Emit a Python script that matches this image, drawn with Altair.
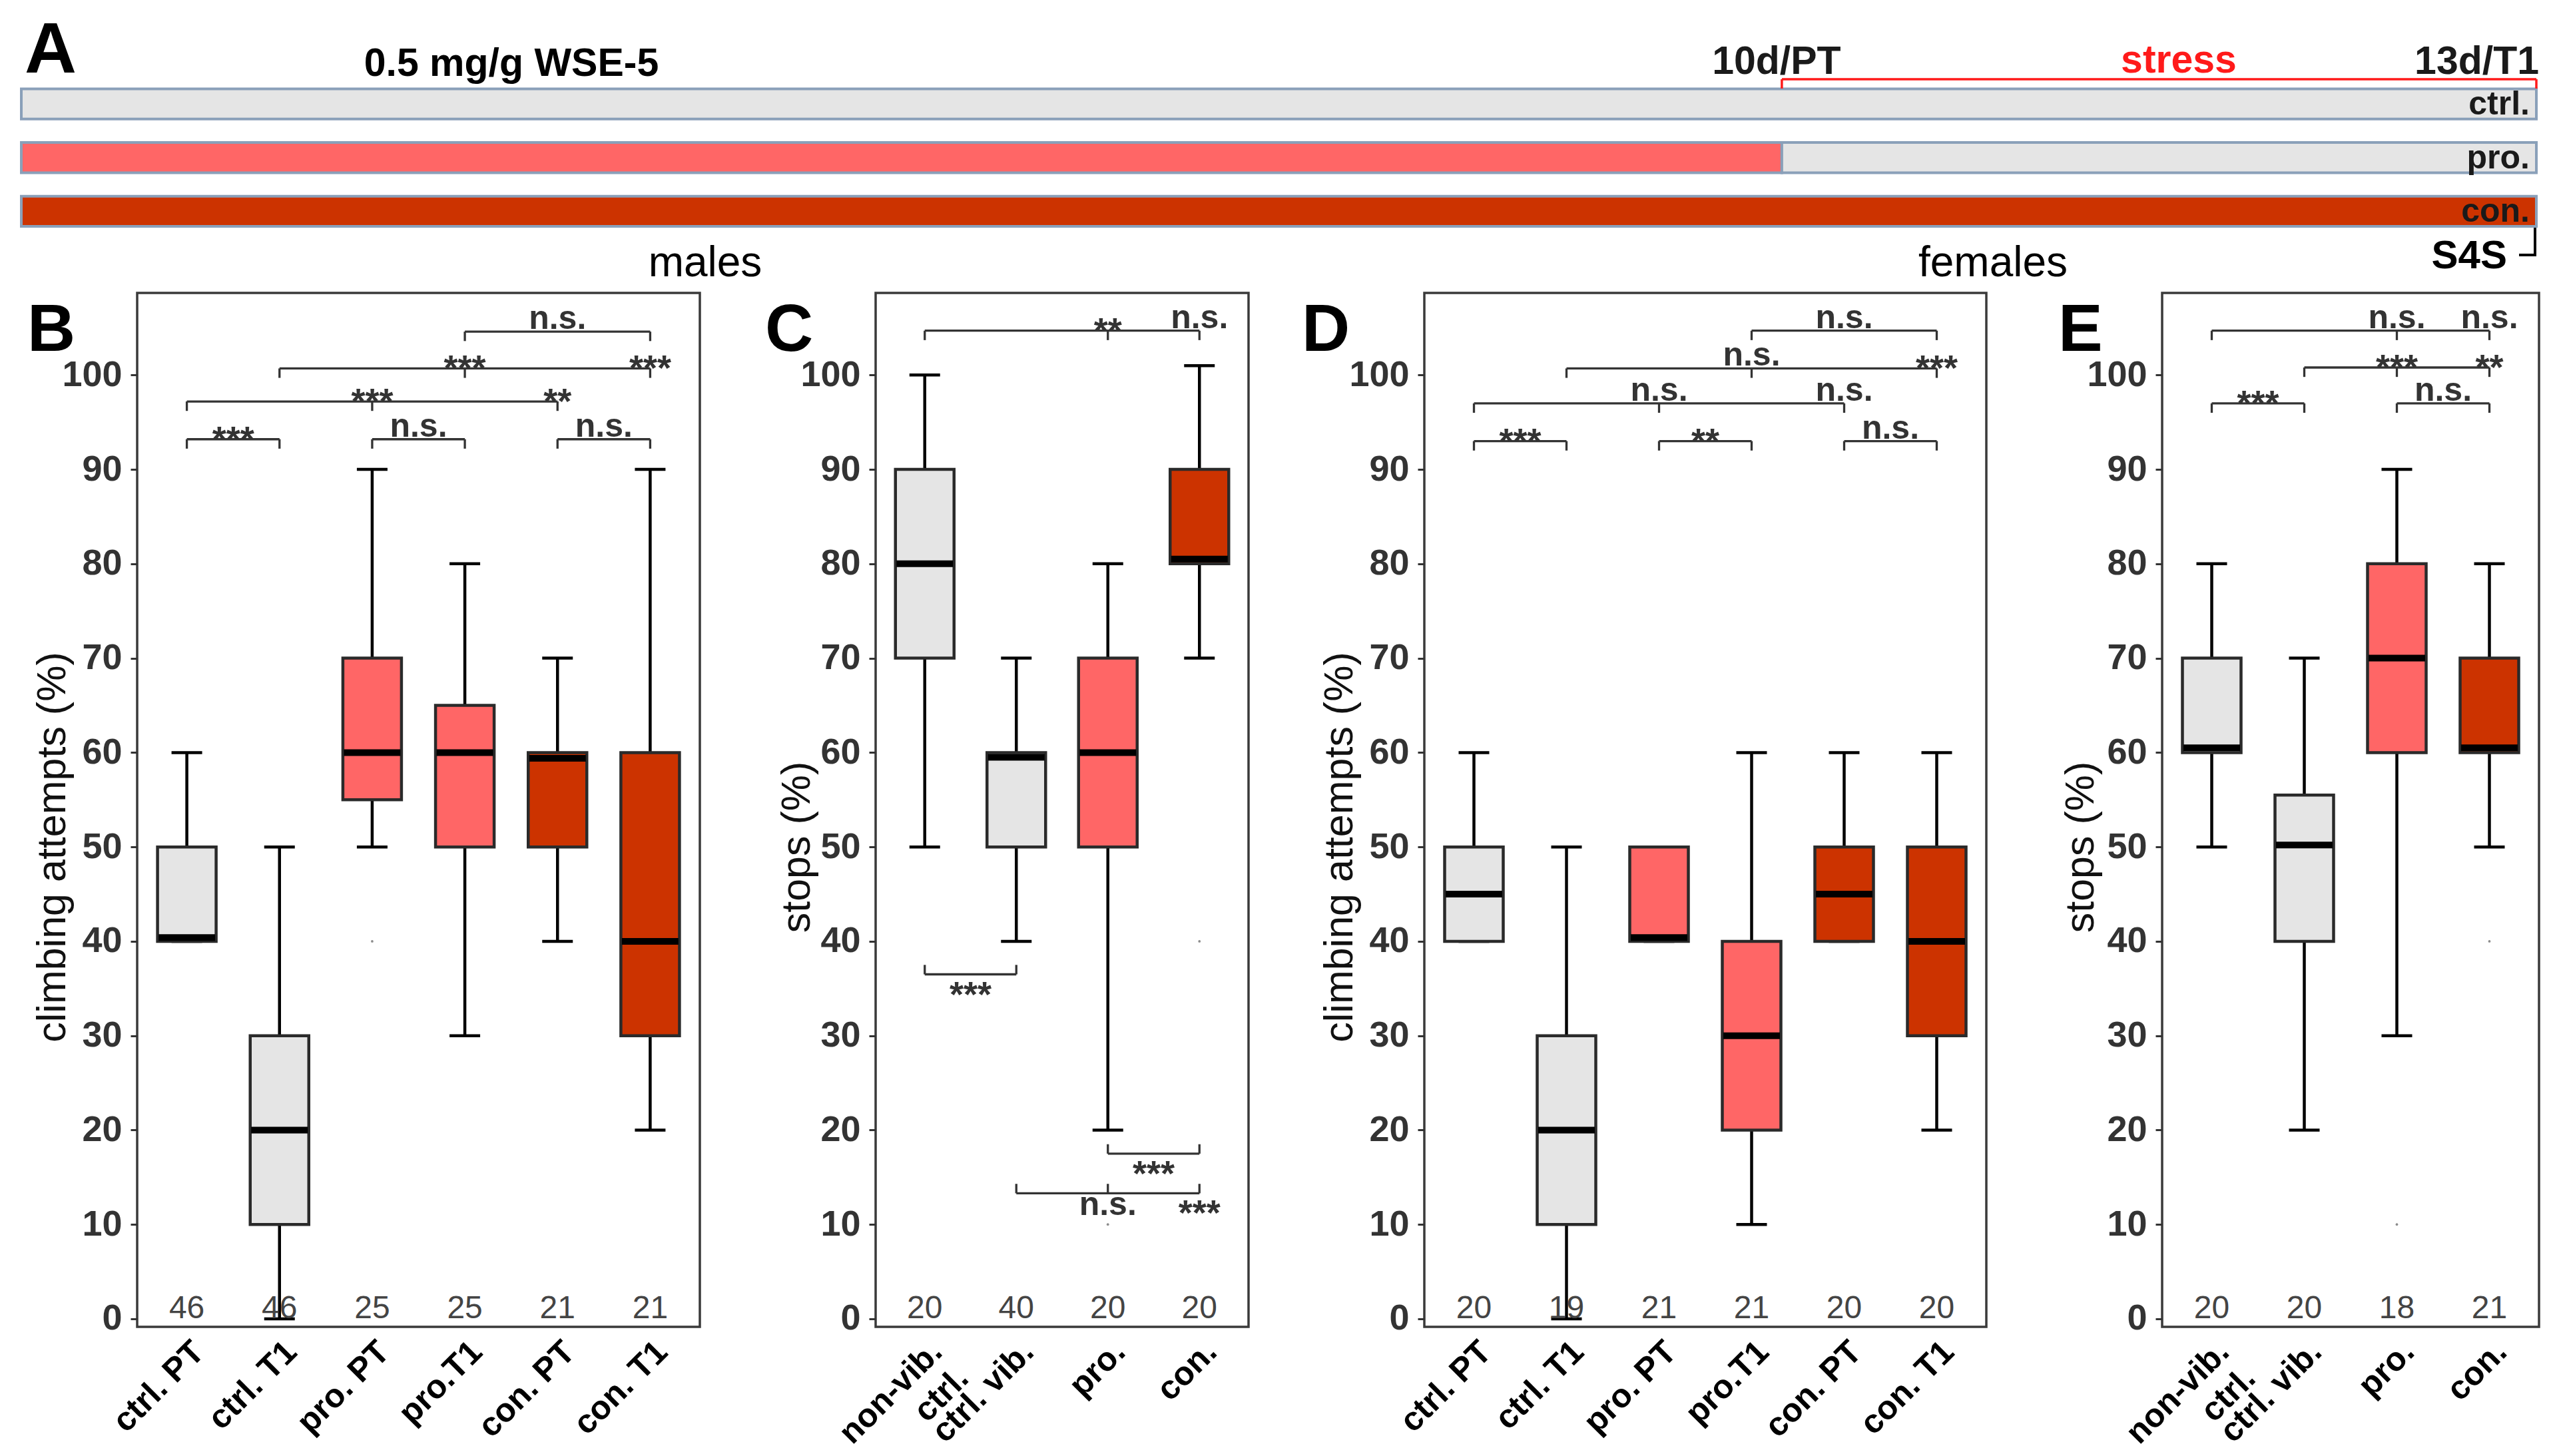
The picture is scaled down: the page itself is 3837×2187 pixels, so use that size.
import json
import altair as alt
import pandas as pd

FONT = "Liberation Sans"
TREATS = ["ctrl", "pro", "con"]
TREAT_COLORS = ["#e5e5e5", "#ff6666", "#cc3300"]
NBSP = "\u00a0"

# ---------------- Panel A: timeline ----------------
a_rows = ["ctrl.", "pro.", "con."]
a_seg_row = ["ctrl.", "pro.", "pro.", "con."]
a_seg_start = [0.0, 0.0, 0.70, 0.0]
a_seg_end = [1.0, 0.70, 1.0, 1.0]
a_seg_treat = ["ctrl", "pro", "ctrl", "con"]
a_time_pos = [0.70, 1.0]
a_time_text = ["10d/PT", "13d/T1"]

# ---------------- Panel B: males, climbing attempts ----------------
b_groups = ["ctrl. PT", "ctrl. T1", "pro. PT", "pro.T1", "con. PT", "con. T1"]
b_treat = ["ctrl", "ctrl", "pro", "pro", "con", "con"]
b_low = [40, 0, 50, 30, 40, 20]
b_q1 = [40, 10, 55, 50, 50, 30]
b_med = [40.4, 20, 60, 60, 59.4, 40]
b_q3 = [50, 30, 70, 65, 60, 60]
b_high = [60, 50, 90, 80, 70, 90]
b_n = [46, 46, 25, 25, 21, 21]
b_out_x = [3]
b_out_y = [40]
# (y, side, from, to, tick positions, [(label position, text)])
b_brackets = [
    (93.2, "top", 1, 2, [1, 2], [(1.5, "***")]),
    (93.2, "top", 3, 4, [3, 4], [(3.5, "n.s.")]),
    (93.2, "top", 5, 6, [5, 6], [(5.5, "n.s.")]),
    (97.2, "top", 1, 5, [1, 3, 5], [(3, "***"), (5, "**")]),
    (100.7, "top", 2, 6, [2, 4, 6], [(4, "***"), (6, "***")]),
    (104.6, "top", 4, 6, [4, 6], [(5, "n.s.")]),
]

# ---------------- Panel C: males, stops ----------------
c_groups = ["non-vib.\nctrl.", "ctrl. vib.", "pro.", "con."]
c_treat = ["ctrl", "ctrl", "pro", "con"]
c_low = [50, 40, 20, 70]
c_q1 = [70, 50, 50, 80]
c_med = [80, 59.5, 60, 80.5]
c_q3 = [90, 60, 70, 90]
c_high = [100, 70, 80, 101]
c_n = [20, 40, 20, 20]
c_out_x = [3, 4]
c_out_y = [10, 40]
c_brackets = [
    (104.7, "top", 1, 4, [1, 3, 4], [(3, "**"), (4, "n.s.")]),
    (36.5, "bottom", 1, 2, [1, 2], [(1.5, "***")]),
    (17.5, "bottom", 3, 4, [3, 4], [(3.5, "***")]),
    (13.3, "bottom", 2, 4, [2, 3, 4], [(3, "n.s."), (4, "***")]),
]

# ---------------- Panel D: females, climbing attempts ----------------
d_groups = ["ctrl. PT", "ctrl. T1", "pro. PT", "pro.T1", "con. PT", "con. T1"]
d_treat = ["ctrl", "ctrl", "pro", "pro", "con", "con"]
d_low = [40, 0, 40, 10, 40, 20]
d_q1 = [40, 10, 40, 20, 40, 30]
d_med = [45, 20, 40.4, 30, 45, 40]
d_q3 = [50, 30, 50, 40, 50, 50]
d_high = [60, 50, 50, 60, 60, 60]
d_n = [20, 19, 21, 21, 20, 20]
d_out_x = []
d_out_y = []
d_brackets = [
    (93.0, "top", 1, 2, [1, 2], [(1.5, "***")]),
    (93.0, "top", 3, 4, [3, 4], [(3.5, "**")]),
    (93.0, "top", 5, 6, [5, 6], [(5.5, "n.s.")]),
    (97.0, "top", 1, 5, [1, 3, 5], [(3, "n.s."), (5, "n.s.")]),
    (100.7, "top", 2, 6, [2, 4, 6], [(4, "n.s."), (6, "***")]),
    (104.7, "top", 4, 6, [4, 6], [(5, "n.s.")]),
]

# ---------------- Panel E: females, stops ----------------
e_groups = ["non-vib.\nctrl.", "ctrl. vib.", "pro.", "con."]
e_treat = ["ctrl", "ctrl", "pro", "con"]
e_low = [50, 20, 30, 50]
e_q1 = [60, 40, 60, 60]
e_med = [60.5, 50.2, 70, 60.5]
e_q3 = [70, 55.5, 80, 70]
e_high = [80, 70, 90, 80]
e_n = [20, 20, 18, 21]
e_out_x = [3, 4]
e_out_y = [10, 40]
e_brackets = [
    (97.0, "top", 1, 2, [1, 2], [(1.5, "***")]),
    (97.0, "top", 3, 4, [3, 4], [(3.5, "n.s.")]),
    (100.8, "top", 2, 4, [2, 3, 4], [(3, "***"), (4, "**")]),
    (104.7, "top", 1, 4, [1, 3, 4], [(3, "n.s."), (4, "n.s.")]),
]

PLOT_H = 1553
Y_DOMAIN = [-0.85, 108.7]
cscale = alt.Scale(domain=TREATS, range=TREAT_COLORS)


def single_text(text, x, y, size, weight="bold", align="left", color="black"):
    return alt.Chart(pd.DataFrame({"t": [text]})).mark_text(
        fontSize=size, fontWeight=weight, align=align, baseline="alphabetic", color=color
    ).encode(text="t:N", x=alt.value(x), y=alt.value(y))


def axis_label(g):
    # multi-line labels: second line visually centred under the first one
    if "\n" in g:
        first, second = g.split("\n")
        return [first, second + NBSP * 4]
    return g


def panel(letter, groups, treat, low, q1, med, q3, high, n, out_x, out_y,
          brackets, ytitle, width, title_x, letter_x):
    k = len(groups)
    idx = list(range(1, k + 1))
    box = pd.DataFrame(dict(idx=idx, treat=treat, low=low, q1=q1, med=med,
                            q3=q3, high=high, n=[str(v) for v in n]))
    caps = pd.DataFrame(dict(idx=idx + idx, val=list(low) + list(high)))
    xs = alt.Scale(domain=[0.5, k + 0.5], nice=False, zero=False)
    ys = alt.Scale(domain=Y_DOMAIN, nice=False, zero=False)
    label_list = [axis_label(g) for g in groups]
    xaxis = alt.Axis(
        values=idx, labelExpr=json.dumps(label_list) + "[datum.value - 1]",
        labelAngle=315, labelAlign="right", labelBaseline="top",
        labelFontSize=50, labelFontWeight="bold", labelColor="black",
        labelPadding=12, ticks=False, tickSize=0, domain=False, grid=False,
        title=None, labelOverlap=False, labelFlush=False, labelLimit=0,
        labelLineHeight=56,
    )
    yaxis = alt.Axis(
        values=list(range(0, 101, 10)), labelFontSize=54, labelFontWeight="bold",
        labelColor="#333333", tickColor="#333333", tickWidth=3, tickSize=10,
        labelPadding=13, domain=False, grid=False, labelLimit=0,
        title=ytitle, titleFontSize=61, titleFontWeight="normal", titleColor="#111111",
        titleAngle=270, titleX=title_x, titleY=832, titleAlign="center",
        titleBaseline="middle",
    )

    def X(f):
        return alt.X(f, type="quantitative", scale=xs, axis=xaxis)

    def Y(f):
        return alt.Y(f, type="quantitative", scale=ys, axis=yaxis)

    layers = []
    layers.append(alt.Chart(box).mark_rule(color="black", strokeWidth=4.5).encode(
        x=X("idx"), y=Y("low"), y2="high"))
    layers.append(alt.Chart(caps).mark_tick(orient="horizontal", color="black",
                                            thickness=4.5, size=46, opacity=1).encode(
        x=X("idx"), y=Y("val")))
    layers.append(alt.Chart(box).mark_bar(size=88, stroke="#2a2a2a", strokeWidth=4.5).encode(
        x=X("idx"), y=Y("q1"), y2="q3",
        color=alt.Color("treat:N", scale=cscale, legend=None)))
    layers.append(alt.Chart(box).mark_tick(orient="horizontal", color="black",
                                           thickness=10, size=85, opacity=1).encode(
        x=X("idx"), y=Y("med")))
    if out_x:
        outl = pd.DataFrame(dict(x=out_x, y=out_y))
        layers.append(alt.Chart(outl).mark_circle(size=14, color="#8c8c8c", opacity=1).encode(
            x=X("x"), y=Y("y")))
    layers.append(alt.Chart(box).mark_text(fontSize=48, color="#444444",
                                           baseline="alphabetic").encode(
        x=X("idx"), y=alt.datum(0.1), text="n:N"))

    lines, ticks, labs = [], [], []
    for (yv, side, a, b, tpos, labels) in brackets:
        lines.append(dict(y=yv, x1=a, x2=b))
        sgn = -1.0 if side == "top" else 1.0
        for t in tpos:
            ticks.append(dict(x=t, y=yv, y2=yv + sgn * 1.0))
        for (lx, txt) in labels:
            kind = "star" if "*" in txt else "ns"
            labs.append(dict(x=lx, y=yv, text=txt, side=side, kind=kind))
    lines = pd.DataFrame(lines)
    ticks = pd.DataFrame(ticks)
    labs = pd.DataFrame(labs)
    layers.append(alt.Chart(lines).mark_rule(color="#333333", strokeWidth=3.3).encode(
        x=X("x1"), x2="x2", y=Y("y")))
    layers.append(alt.Chart(ticks).mark_rule(color="#333333", strokeWidth=3.3).encode(
        x=X("x"), y=Y("y"), y2="y2"))
    offsets = {("top", "ns"): (-4, 50), ("top", "star"): (18, 54),
               ("bottom", "ns"): (33, 50), ("bottom", "star"): (48, 54)}
    for (side, kind), (dy, fs) in offsets.items():
        sub = labs[(labs.side == side) & (labs.kind == kind)]
        if len(sub) == 0:
            continue
        layers.append(alt.Chart(sub).mark_text(
            fontSize=fs, fontWeight="bold", color="#333333", align="center",
            baseline="alphabetic", dy=dy).encode(x=X("x"), y=Y("y"), text="text:N"))
    layers.append(single_text(letter, letter_x, 87, 100))
    return alt.layer(*layers).properties(
        width=width, height=PLOT_H,
        view=alt.ViewBackground(stroke="#3a3a3a", strokeWidth=3.5))


# ---------------- build panel A ----------------
ax = alt.Scale(domain=[0, 1], range=[-174, 3603], nice=False, zero=False)
ay = alt.Scale(domain=a_rows, range=[125.5, 332], paddingInner=0.438, paddingOuter=0)
seg = pd.DataFrame(dict(row=a_seg_row, start=a_seg_start, end=a_seg_end, treat=a_seg_treat))
rows_df = pd.DataFrame(dict(row=a_rows, pos=[1.0] * len(a_rows)))
time_df = pd.DataFrame(dict(pos=a_time_pos, text=a_time_text))

a_layers = [
    alt.Chart(seg).mark_bar(stroke="#8aa0b9", strokeWidth=4).encode(
        x=alt.X("start:Q", scale=ax, axis=None), x2="end",
        y=alt.Y("row:N", scale=ay, axis=None),
        color=alt.Color("treat:N", scale=cscale, legend=None)),
    alt.Chart(rows_df).mark_text(align="right", dx=-10, dy=16, baseline="alphabetic",
                                 fontSize=50, fontWeight="bold", color="#1a1a1a").encode(
        x=alt.X("pos:Q", scale=ax, axis=None), y=alt.Y("row:N", scale=ay, axis=None),
        text="row:N"),
    alt.Chart(time_df.iloc[[0]]).mark_text(align="center", dx=-8, baseline="alphabetic",
                                           fontSize=59, fontWeight="bold", color="#1a1a1a").encode(
        x=alt.X("pos:Q", scale=ax, axis=None), y=alt.value(103), text="text:N"),
    alt.Chart(time_df.iloc[[1]]).mark_text(align="right", dx=4, baseline="alphabetic",
                                           fontSize=59, fontWeight="bold", color="#1a1a1a").encode(
        x=alt.X("pos:Q", scale=ax, axis=None), y=alt.value(103), text="text:N"),
    alt.Chart(pd.DataFrame(dict(p1=[a_time_pos[0]], p2=[a_time_pos[1]]))).mark_rule(
        color="#ff1a1a", strokeWidth=3.5).encode(
        x=alt.X("p1:Q", scale=ax, axis=None), x2="p2", y=alt.value(111)),
    alt.Chart(time_df).mark_rule(color="#ff1a1a", strokeWidth=3.5).encode(
        x=alt.X("pos:Q", scale=ax, axis=None), y=alt.value(111), y2=alt.value(125)),
    single_text("A", -169, 101, 108),
    single_text("0.5 mg/g WSE-5", 562, 106, 59, align="center"),
    single_text("stress", 3066, 101, 59, align="center", color="#ff1a1a"),
    single_text("males", 853, 407, 64, weight="normal", align="center"),
    single_text("females", 2787, 407, 64, weight="normal", align="center"),
    single_text("S4S", 3559, 395, 60, align="right"),
    alt.Chart(pd.DataFrame({"h": [1]})).mark_rule(color="black", strokeWidth=4).encode(
        x=alt.value(3601), y=alt.value(334), y2=alt.value(375)),
    alt.Chart(pd.DataFrame({"h": [1]})).mark_rule(color="black", strokeWidth=4).encode(
        x=alt.value(3577), x2=alt.value(3603), y=alt.value(375)),
]
panel_a = alt.layer(*a_layers).properties(width=3607, height=424)

panel_b = panel("B", b_groups, b_treat, b_low, b_q1, b_med, b_q3, b_high, b_n,
                b_out_x, b_out_y, b_brackets, "climbing attempts (%)", 845, -127, -165)
panel_c = panel("C", c_groups, c_treat, c_low, c_q1, c_med, c_q3, c_high, c_n,
                c_out_x, c_out_y, c_brackets, "stops (%)", 560, -118, -166)
panel_d = panel("D", d_groups, d_treat, d_low, d_q1, d_med, d_q3, d_high, d_n,
                d_out_x, d_out_y, d_brackets, "climbing attempts (%)", 844, -127, -184)
panel_e = panel("E", e_groups, e_treat, e_low, e_q1, e_med, e_q3, e_high, e_n,
                e_out_x, e_out_y, e_brackets, "stops (%)", 566, -122, -156)

row = alt.hconcat(panel_b, panel_c, panel_d, panel_e, spacing=264, bounds="flush")
chart = alt.vconcat(panel_a, row, spacing=8, bounds="flush").properties(
    padding={"left": 22, "top": 0, "right": 0, "bottom": 0}
).configure(font=FONT).configure_view(stroke=None)

chart.save("out.html", embed_options={"renderer": "svg", "actions": False})
